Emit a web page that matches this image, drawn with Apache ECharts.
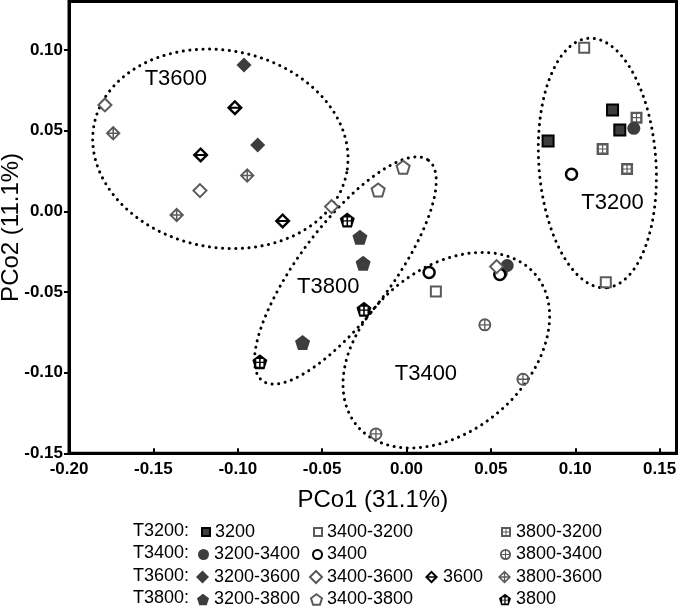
<!DOCTYPE html>
<html>
<head>
<meta charset="utf-8">
<script src="https://cdn.jsdelivr.net/npm/echarts@6/dist/echarts.min.js"></script>
<style>
html, body { margin: 0; padding: 0; background: #fff; }
#chart { width: 680px; height: 609px; }
</style>
</head>
<body>
<div id="chart"></div>
<script>
// axis ticks
const xTicks = [-0.2, -0.15, -0.1, -0.05, 0, 0.05, 0.1, 0.15]
const yTicks = [-0.15, -0.1, -0.05, 0, 0.05, 0.1]

// samples as [PCo1, PCo2]
const s3200 = [[0.1221, 0.0628], [0.1264, 0.0504], [0.0839, 0.0436]]
const s3400to3200 = [[0.1053, 0.1014], [0.1181, -0.0440], [0.0174, -0.0498]]
const s3800to3200 = [[0.1363, 0.0580], [0.1162, 0.0386], [0.1307, 0.0262]]
const s3200to3400 = [[0.1347, 0.0514], [0.0597, -0.0336], [0.0562, -0.0382]]
const s3400 = [[0.0978, 0.0229], [0.0134, -0.0380], [0.0553, -0.0392]]
const s3800to3400 = [[0.0464, -0.0704], [0.0690, -0.1041], [-0.0181, -0.1380]]
const s3200to3600 = [[-0.0963, 0.0906], [-0.0882, 0.0411]]
const s3400to3600 = [[-0.1787, 0.0659], [-0.1224, 0.0128], [-0.0444, 0.0029], [0.0534, -0.0343]]
const s3600 = [[-0.1017, 0.0642], [-0.1220, 0.0349], [-0.0734, -0.0060]]
const s3800to3600 = [[-0.1738, 0.0483], [-0.0944, 0.0221], [-0.1362, -0.0023]]
const s3200to3800 = [[-0.0276, -0.0161], [-0.0257, -0.0322], [-0.0616, -0.0814]]
const s3400to3800 = [[-0.0168, 0.0132], [-0.0020, 0.0273]]
const s3800 = [[-0.0351, -0.0054], [-0.0252, -0.0607], [-0.0869, -0.0932]]

// cluster ellipses: centre x, centre y, semi axes (x units), tilt in degrees
const groupNames = ['T3600', 'T3200', 'T3800', 'T3400']
const groupEllipses = [
  [-0.1103, 0.0387, 0.0762, 0.0584, 10.7],
  [0.1131, 0.0299, 0.0741, 0.0347, 86],
  [-0.0362, -0.0367, 0.0818, 0.0273, -53],
  [0.0236, -0.0861, 0.0693, 0.0480, -40.5]
]
const groupLabelPos = [[-0.1367, 0.0817], [0.1221, 0.0050], [-0.0464, -0.0467], [0.0115, -0.1008]]
const legendGroups = ['T3200:', 'T3400:', 'T3600:', 'T3800:']

const FONT = '"Liberation Sans", Arial, sans-serif'
const DARK = '#3d3d3d'
const GREY = '#5a5a5a'

const PENTAGON = 'M10 0L19.51 6.91L15.88 18.09L4.12 18.09L0.49 6.91Z'
const SYM = {
  gridSquare: 'path://M0 0H20V20H0Z M4 4V9H9V4Z M11 4V9H16V4Z M4 11V16H9V11Z M11 11V16H16V11Z',
  circleCross: 'path://M10 0A10 10 0 0 1 10 20A10 10 0 0 1 10 0Z M11 9H16.93A7 7 0 0 0 11 3.07Z M9 9V3.07A7 7 0 0 0 3.07 9Z M9 11H3.07A7 7 0 0 0 9 16.93Z M11 11V16.93A7 7 0 0 0 16.93 11Z',
  diamondBar: 'path://M10 0L20 10L10 20L0 10Z M10 4.24L5.44 8.8H14.56Z M10 15.76L14.56 11.2H5.44Z',
  diamondCross: 'path://M10 0L20 10L10 20L0 10Z M11 4.54L11 9L15.46 9Z M9 4.54L4.54 9L9 9Z M11 15.46L15.46 11L11 11Z M9 15.46L9 11L4.54 11Z',
  pentagon: 'path://' + PENTAGON,
  pentagonCross: 'path://' + PENTAGON + ' M5.5 6V9.3H9V6Z M11 6V9.3H14.5V6Z M5.5 10.8V15.3H9V10.8Z M11 10.8V15.3H14.5V10.8Z'
}

// name, data, symbol, size, style, legend slot [row, col], legend icon size
const seriesDefs = [
  ['3200', s3200, 'rect', 11, { color: DARK, borderColor: '#000', borderWidth: 2 }, [0, 0], 8],
  ['3400-3200', s3400to3200, 'rect', 10, { color: '#fff', borderColor: GREY, borderWidth: 2 }, [0, 1], 8],
  ['3800-3200', s3800to3200, SYM.gridSquare, 12, { color: GREY }, [0, 3], 10],
  ['3200-3400', s3200to3400, 'circle', 13, { color: DARK }, [1, 0], 11],
  ['3400', s3400, 'circle', 11, { color: '#fff', borderColor: '#000', borderWidth: 2.5 }, [1, 1], 9],
  ['3800-3400', s3800to3400, SYM.circleCross, 13, { color: GREY }, [1, 3], 11],
  ['3200-3600', s3200to3600, 'diamond', 15, { color: DARK }, [2, 0], 13],
  ['3400-3600', s3400to3600, 'diamond', 13, { color: '#fff', borderColor: GREY, borderWidth: 2 }, [2, 1], 12],
  ['3600', s3600, SYM.diamondBar, 16, { color: '#000' }, [2, 2], 13],
  ['3800-3600', s3800to3600, SYM.diamondCross, 15, { color: GREY }, [2, 3], 13],
  ['3200-3800', s3200to3800, SYM.pentagon, 15, { color: DARK }, [3, 0], 12],
  ['3400-3800', s3400to3800, SYM.pentagon, 13, { color: '#fff', borderColor: GREY, borderWidth: 2 }, [3, 1], 11],
  ['3800', s3800, SYM.pentagonCross, 15, { color: '#000' }, [3, 3], 12]
]

const legendCols = [214, 326, 443, 516]
const legendRows = [532, 554.5, 577, 599.5]

function renderEllipse (params, api) {
  const c = api.coord([api.value(0), api.value(1)])
  const ra = api.size([api.value(2), 0])[0]
  const rb = api.size([api.value(3), 0])[0]
  const t = api.value(4) * Math.PI / 180
  const pts = []
  for (let i = 0; i < 160; i++) {
    const u = i / 160 * Math.PI * 2
    const ex = ra * Math.cos(u)
    const ey = rb * Math.sin(u)
    pts.push([c[0] + ex * Math.cos(t) - ey * Math.sin(t), c[1] + ex * Math.sin(t) + ey * Math.cos(t)])
  }
  return {
    type: 'polygon',
    shape: { points: pts },
    style: { fill: 'none', stroke: '#000', lineWidth: 3, lineDash: [0.1, 6.5], lineCap: 'round' }
  }
}

function renderGroupLabel (params, api) {
  const p = api.coord([api.value(0), api.value(1)])
  return {
    type: 'text',
    x: p[0],
    y: p[1],
    style: { text: groupNames[params.dataIndex], fill: '#000', font: '22px ' + FONT, align: 'center', verticalAlign: 'middle' }
  }
}

const series = [
  { type: 'custom', renderItem: renderEllipse, data: groupEllipses, silent: true, z: 1 },
  { type: 'custom', renderItem: renderGroupLabel, data: groupLabelPos, silent: true, z: 1 }
]
const legends = []
seriesDefs.forEach(item => {
  series.push({
    name: item[0],
    type: 'scatter',
    data: item[1],
    symbol: item[2],
    symbolSize: item[3],
    itemStyle: Object.assign({ opacity: 1 }, item[4]),
    z: 3
  })
  const icon = item[6]
  legends.push({
    data: [item[0]],
    left: legendCols[item[5][1]] - icon - 5,
    top: legendRows[item[5][0]] - 10,
    padding: 0,
    itemWidth: icon,
    itemHeight: icon,
    selectedMode: false,
    textStyle: { fontSize: 18, fontFamily: FONT, color: '#000', lineHeight: 20 }
  })
})

const chart = echarts.init(document.getElementById('chart'))
chart.setOption({
  animation: false,
  backgroundColor: '#fff',
  grid: {
    left: 69,
    right: 3.5,
    top: 1.5,
    bottom: 155.7,
    outerBoundsMode: 'none',
    containLabel: false,
    show: true,
    borderColor: '#000',
    borderWidth: 3
  },
  xAxis: {
    type: 'value',
    min: -0.2,
    max: 0.16,
    name: 'PCo1 (31.1%)',
    nameLocation: 'middle',
    nameGap: 35,
    nameTextStyle: { fontSize: 24, fontFamily: FONT, color: '#000' },
    axisLine: { onZero: false, lineStyle: { color: '#000', width: 3 } },
    axisTick: { inside: true, length: 5, customValues: xTicks, lineStyle: { color: '#000', width: 2 } },
    axisLabel: { customValues: xTicks, margin: 8, fontSize: 17, fontWeight: 'bold', fontFamily: FONT, color: '#000', formatter: v => v.toFixed(2) },
    splitLine: { show: false }
  },
  yAxis: {
    type: 'value',
    min: -0.15,
    max: 0.13,
    name: 'PCo2 (11.1%)',
    nameLocation: 'middle',
    nameGap: 46,
    nameMoveOverlap: false,
    nameTextStyle: { fontSize: 24, fontFamily: FONT, color: '#000' },
    axisLine: { onZero: false, lineStyle: { color: '#000', width: 3 } },
    axisTick: { length: 5, customValues: yTicks, lineStyle: { color: '#000', width: 2 } },
    axisLabel: { customValues: yTicks, margin: 6, fontSize: 17, fontWeight: 'bold', fontFamily: FONT, color: '#000', formatter: v => v.toFixed(2) },
    splitLine: { show: false }
  },
  legend: legends,
  graphic: legendGroups.map((g, i) => ({
    type: 'text',
    left: 133,
    top: legendRows[i] - 10,
    style: { text: g, font: '18px ' + FONT, fill: '#000' }
  })),
  series: series
})
</script>
</body>
</html>
